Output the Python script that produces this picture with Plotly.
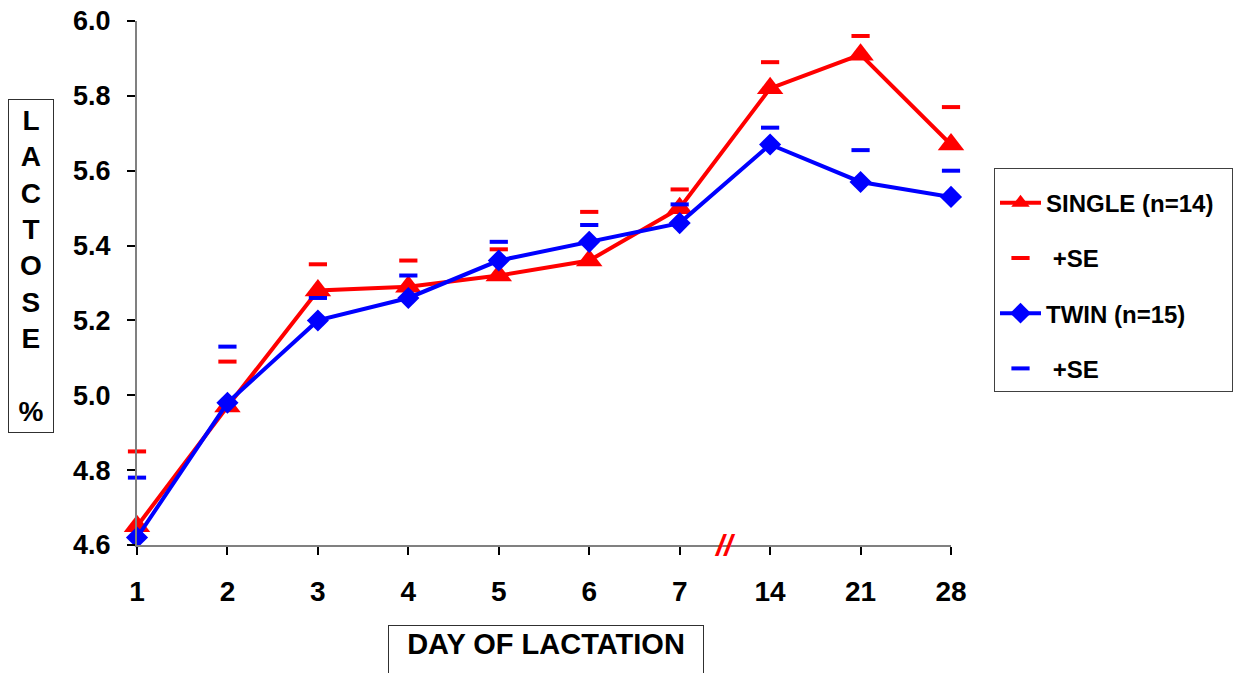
import plotly.graph_objects as go

days = ["1", "2", "3", "4", "5", "6", "7", "14", "21", "28"]
single_mean = [4.65, 4.97, 5.28, 5.29, 5.32, 5.36, 5.50, 5.82, 5.91, 5.67]
single_se = [4.85, 5.09, 5.35, 5.36, 5.39, 5.49, 5.55, 5.89, 5.96, 5.77]
twin_mean = [4.62, 4.98, 5.20, 5.26, 5.36, 5.41, 5.46, 5.67, 5.57, 5.53]
twin_se = [4.78, 5.13, 5.26, 5.32, 5.41, 5.455, 5.51, 5.715, 5.655, 5.60]
y_ticks = [4.6, 4.8, 5.0, 5.2, 5.4, 5.6, 5.8, 6.0]

RED = "#FF0000"
BLUE = "#0000FF"
FONT = "Liberation Sans, Arial, sans-serif"
PAD = "&nbsp;" * 2  # right padding inside the legend box

fig = go.Figure()
fig.add_trace(go.Scatter(
    x=days, y=single_mean, mode="lines+markers", name="SINGLE (n=14)" + PAD,
    line=dict(color=RED, width=4),
    marker=dict(symbol="triangle-up", size=23, color=RED),
    legendgroup="a", cliponaxis=False))
fig.add_trace(go.Scatter(
    x=days, y=single_se, mode="markers", name=" +SE",
    marker=dict(symbol="line-ew", size=13, line=dict(color=RED, width=4)),
    legendgroup="b", cliponaxis=False))
fig.add_trace(go.Scatter(
    x=days, y=twin_mean, mode="lines+markers", name="TWIN (n=15)",
    line=dict(color=BLUE, width=4),
    marker=dict(symbol="diamond", size=17, color=BLUE),
    legendgroup="c", cliponaxis=False))
fig.add_trace(go.Scatter(
    x=days, y=twin_se, mode="markers", name=" +SE",
    marker=dict(symbol="line-ew", size=13, line=dict(color=BLUE, width=4)),
    legendgroup="d", cliponaxis=False))

axis_common = dict(showgrid=False, zeroline=False, automargin=False)

fig.update_layout(
    width=1245, height=673,
    margin=dict(l=137, r=294, t=21, b=128, autoexpand=False),
    paper_bgcolor="white", plot_bgcolor="white",
    font=dict(family=FONT, color="black"),
    showlegend=True,
    xaxis=dict(
        type="category", categoryorder="array", categoryarray=days,
        range=[0, len(days) - 1],
        showline=True, linecolor="#808080", linewidth=2,
        ticks="outside", ticklen=8, tickwidth=1.5, tickcolor="black",
        tickfont=dict(family=FONT, size=28, color="black", weight="bold"),
        ticklabelstandoff=12,
        **axis_common),
    yaxis=dict(
        range=[y_ticks[0], y_ticks[-1]], tickvals=y_ticks, tickformat=".1f",
        showline=True, linecolor="#808080", linewidth=2,
        ticks="outside", ticklen=8, tickwidth=1.5, tickcolor="black",
        tickfont=dict(family=FONT, size=27, color="black", weight="bold"),
        ticklabelstandoff=11,
        **axis_common),
    xaxis2=dict(
        type="category", categoryorder="array", categoryarray=days,
        range=[0, len(days) - 1], overlaying="x", anchor="y2",
        showline=False, showticklabels=False,
        ticks="inside", ticklen=8, tickwidth=1.5, tickcolor="black",
        **axis_common),
    yaxis2=dict(
        range=[y_ticks[0], y_ticks[-1]], tickvals=y_ticks, overlaying="y",
        anchor="x2", side="left",
        showline=False, showticklabels=False,
        ticks="inside", ticklen=8, tickwidth=1.5, tickcolor="black",
        **axis_common),
    legend=dict(
        x=(994 - 137) / 814, y=(545 - 168) / 524, xanchor="left", yanchor="top",
        bordercolor="#404040", borderwidth=1, bgcolor="white",
        font=dict(family=FONT, size=24, color="black", weight="bold"),
        title=dict(text=" ", font=dict(size=9)),
        tracegroupgap=21, itemwidth=41, itemsizing="trace",
    ),
)

# Y-axis title in a box with stacked letters
fig.add_annotation(
    xref="paper", yref="paper",
    x=(31 - 137) / 814, y=(545 - 266) / 524,
    text="L<br>A<br>C<br>T<br>O<br>S<br>E<br> <br>%",
    showarrow=False, align="center",
    font=dict(family=FONT, size=28, color="black", weight="bold"),
    bordercolor="#303030", borderwidth=1, borderpad=0,
    width=44, height=332, xanchor="center", yanchor="middle")

# X-axis title in a box
fig.add_annotation(
    xref="paper", yref="paper",
    x=(545.5 - 137) / 814, y=(545 - 625) / 524,
    text="DAY OF LACTATION",
    showarrow=False, valign="top",
    font=dict(family=FONT, size=29, color="black", weight="bold"),
    bordercolor="#303030", borderwidth=1, borderpad=2,
    width=310, height=64, xanchor="center", yanchor="top")

# Axis break marker between day 7 and day 14
fig.add_annotation(
    xref="x", yref="paper", x=6.5, y=0,
    text="<i>//</i>", showarrow=False,
    font=dict(family=FONT, size=30, color=RED, weight="bold"),
    xanchor="center", yanchor="middle")

fig.write_html(
    "out.html",
    config={"displayModeBar": False},
    post_script="document.body.style.margin='0';document.body.style.overflow='hidden';",
)
